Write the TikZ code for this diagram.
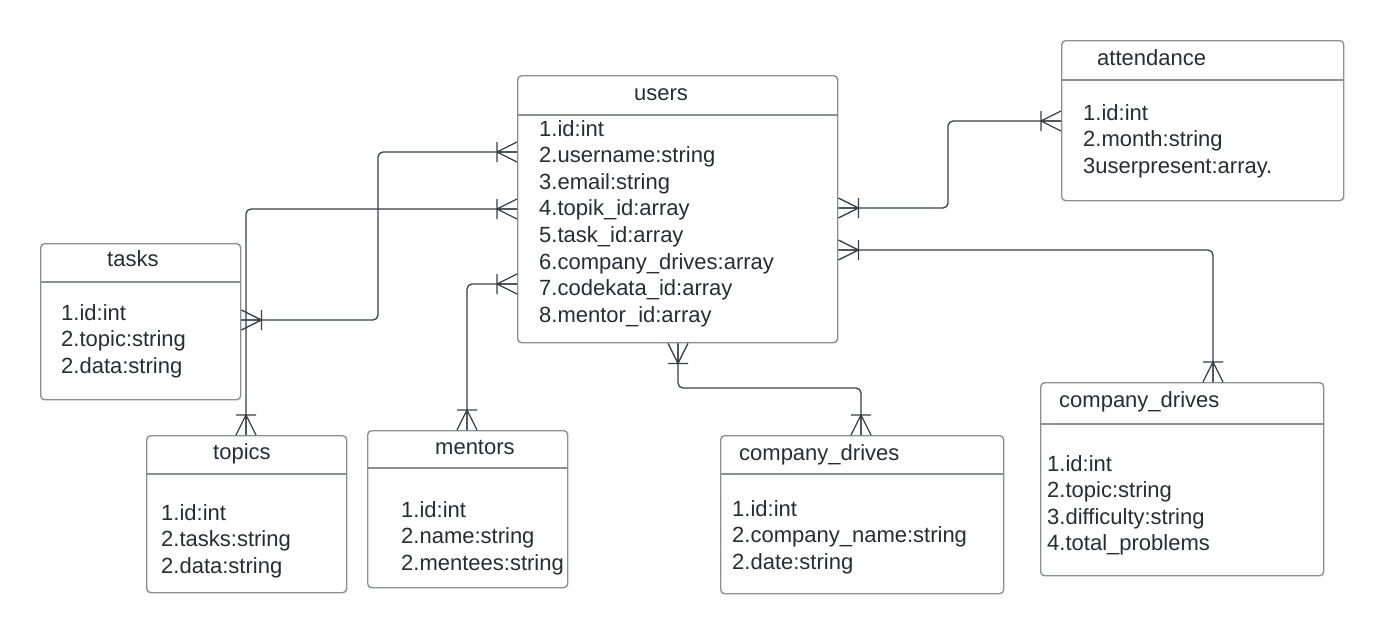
\documentclass[tikz,border=0pt]{standalone}
\usepackage{fontspec}
\setmainfont{Liberation Sans}
\definecolor{textc}{RGB}{40,44,52}
\definecolor{boxc}{RGB}{140,144,150}
\definecolor{connc}{RGB}{58,64,74}
\begin{document}
\begin{tikzpicture}[x=1pt,y=-1pt,
  tbl/.style={draw=boxc,line width=1.4pt,rounded corners=4pt,inner sep=0pt,anchor=north west,fill=white},
  divl/.style={draw=boxc,line width=1.4pt},
  txt/.style={anchor=base west,inner sep=0pt,text=textc,font=\fontsize{22}{26}\selectfont},
  conn/.style={draw=connc,line width=1.3pt,rounded corners=5pt},
  crowline/.style={draw=connc,line width=1.3pt},
  crow/.pic={\draw[crowline] (0,-10) -- (20,0) -- (0,10) (20,-10) -- (20,10) (0,0) -- (20,0);}
]
\useasboundingbox (0,0) rectangle (1384,633);
\fill[white] (0,0) rectangle (1384,633);

% ---------- tables ----------
% users
\node[tbl,minimum width=320pt,minimum height=267pt] (users) at (517,75) {};
\draw[divl] ([yshift=-40pt]users.north west) -- ([yshift=-40pt]users.north east);
\node[txt] (users-t) at (634,100) {users};
\foreach [count=\i] \t in {1.id:int,2.username:string,3.email:string,4.topik\_id:array,5.task\_id:array,6.company\_drives:array,7.codekata\_id:array,8.mentor\_id:array}
  \node[txt] (users-r\i) at (539,{136+26.6*(\i-1)}) {\t};

% attendance
\node[tbl,minimum width=282pt,minimum height=160pt] (att) at (1061,40) {};
\draw[divl] ([yshift=-40pt]att.north west) -- ([yshift=-40pt]att.north east);
\node[txt] (att-t) at (1097,65) {attendance};
\foreach [count=\i] \t in {1.id:int,2.month:string,3userpresent:array.}
  \node[txt] (att-r\i) at (1083,{120+26.6*(\i-1)}) {\t};

% tasks
\node[tbl,minimum width=200pt,minimum height=156pt] (tasks) at (40,243) {};
\draw[divl] ([yshift=-39pt]tasks.north west) -- ([yshift=-39pt]tasks.north east);
\node[txt] (tasks-t) at (107,266) {tasks};
\foreach [count=\i] \t in {1.id:int,2.topic:string,2.data:string}
  \node[txt] (tasks-r\i) at (61,{320+26.6*(\i-1)}) {\t};

% topics
\node[tbl,minimum width=200pt,minimum height=157pt] (topics) at (146,435) {};
\draw[divl] ([yshift=-39pt]topics.north west) -- ([yshift=-39pt]topics.north east);
\node[txt] (topics-t) at (213,459) {topics};
\foreach [count=\i] \t in {1.id:int,2.tasks:string,2.data:string}
  \node[txt] (topics-r\i) at (161,{520+26.6*(\i-1)}) {\t};

% mentors
\node[tbl,minimum width=200pt,minimum height=157pt] (mentors) at (367,430) {};
\draw[divl] ([yshift=-38pt]mentors.north west) -- ([yshift=-38pt]mentors.north east);
\node[txt] (mentors-t) at (435,454) {mentors};
\foreach [count=\i] \t in {1.id:int,2.name:string,2.mentees:string}
  \node[txt] (mentors-r\i) at (401,{517+26.6*(\i-1)}) {\t};

% company_drives (middle)
\node[tbl,minimum width=283pt,minimum height=158pt] (cdm) at (720,435) {};
\draw[divl] ([yshift=-39pt]cdm.north west) -- ([yshift=-39pt]cdm.north east);
\node[txt] (cdm-t) at (739,460) {company\_drives};
\foreach [count=\i] \t in {1.id:int,2.company\_name:string,2.date:string}
  \node[txt] (cdm-r\i) at (732,{516+26.6*(\i-1)}) {\t};

% company_drives (right)
\node[tbl,minimum width=283pt,minimum height=193pt] (cdr) at (1040,382) {};
\draw[divl] ([yshift=-42pt]cdr.north west) -- ([yshift=-42pt]cdr.north east);
\node[txt] (cdr-t) at (1059,407) {company\_drives};
\foreach [count=\i] \t in {1.id:int,2.topic:string,3.difficulty:string,4.total\_problems}
  \node[txt] (cdr-r\i) at (1047,{471+26.6*(\i-1)}) {\t};

% ---------- connectors ----------
% users -- tasks
\draw[conn] (users.west |- 0,152) -- (378,152) -- (378,320) -- (tasks.east |- 0,320);
\pic[rotate=180] at (users.west |- 0,152) {crow};
\pic at (tasks.east |- 0,320) {crow};
% users -- topics
\draw[conn] (users.west |- 0,209) -- (246,209) -- (topics.north -| 246,0);
\pic[rotate=180] at (users.west |- 0,209) {crow};
\pic[rotate=90] at (topics.north -| 246,0) {crow};
% users -- mentors
\draw[conn] (users.west |- 0,284) -- (467,284) -- (mentors.north -| 467,0);
\pic[rotate=180] at (users.west |- 0,284) {crow};
\pic[rotate=90] at (mentors.north -| 467,0) {crow};
% users -- company_drives (middle)
\draw[conn] (users.south -| 678,0) -- (678,388) -- (861,388) -- (cdm.north -| 861,0);
\pic[rotate=-90] at (users.south -| 678,0) {crow};
\pic[rotate=90] at (cdm.north -| 861,0) {crow};
% users -- attendance
\draw[conn] (users.east |- 0,208) -- (948,208) -- (948,121) -- (att.west |- 0,121);
\pic at (users.east |- 0,208) {crow};
\pic[rotate=180] at (att.west |- 0,121) {crow};
% users -- company_drives (right)
\draw[conn] (users.east |- 0,250) -- (1213,250) -- (cdr.north -| 1213,0);
\pic at (users.east |- 0,250) {crow};
\pic[rotate=90] at (cdr.north -| 1213,0) {crow};
\end{tikzpicture}
\end{document}
